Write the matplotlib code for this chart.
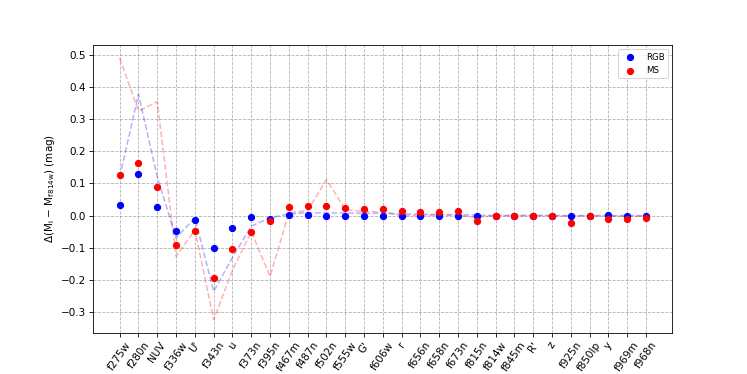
import matplotlib
matplotlib.use("Agg")
import matplotlib.pyplot as plt
import numpy as np

filters = ["f275w", "f280n", "NUV", "f336w", "U'", "f343n", "u", "f373n", "f395n",
           "f467m", "f487n", "f502n", "f555w", "G'", "f606w", "r", "f656n", "f658n",
           "f673n", "f815n", "f814w", "f845m", "R'", "z", "f925n", "f850lp", "y",
           "f969m", "f968n"]

# observed points
rgb_pts = [0.032, 0.129, 0.027, -0.049, -0.013, -0.100, -0.040, -0.006, -0.012,
           0.001, 0.001, 0.000, 0.000, 0.000, 0.000, 0.000, 0.000, 0.000,
           0.000, -0.002, 0.000, 0.000, 0.000, 0.000, 0.000, 0.000, 0.001,
           0.000, 0.000]
ms_pts = [0.127, 0.162, 0.088, -0.093, -0.048, -0.193, -0.103, -0.052, -0.017,
          0.027, 0.029, 0.029, 0.024, 0.021, 0.019, 0.015, 0.011, 0.012,
          0.015, -0.018, 0.000, 0.000, 0.000, 0.000, -0.023, 0.000, -0.010,
          -0.011, -0.009]

# dashed curves
rgb_line = [0.12, 0.377, 0.12, -0.07, -0.007, -0.236, -0.13, -0.033, -0.007,
            0.005, 0.009, 0.008, 0.008, 0.007, 0.007, 0.005, 0.004, 0.003,
            0.003, 0.001, 0.000, 0.000, 0.000, 0.000, 0.000, 0.000, 0.000,
            0.000, 0.000]
ms_line = [0.49, 0.325, 0.354, -0.127, -0.045, -0.324, -0.17, -0.05, -0.189,
           0.008, 0.016, 0.112, 0.019, 0.012, 0.012, 0.000, 0.000, 0.002,
           0.000, -0.005, 0.000, 0.000, 0.000, 0.000, -0.002, 0.000, -0.002,
           -0.002, -0.002]

DPI = 74.7
fig, ax = plt.subplots(figsize=(747 / DPI, 374 / DPI), dpi=DPI)
x = np.arange(len(filters))

ax.plot(x, rgb_line, color="blue", ls="--", alpha=0.3, lw=1.5)
ax.plot(x, ms_line, color="red", ls="--", alpha=0.3, lw=1.5)
ax.scatter(x, rgb_pts, color="blue", s=36, label="RGB", zorder=3)
ax.scatter(x, ms_pts, color="red", s=36, label="MS", zorder=4)

ax.set_xticks(x)
ax.set_xticklabels(filters, rotation=55)
ax.set_ylabel(r"$\Delta$(M$_\mathrm{i}$ $-$ M$_\mathrm{f814w}$) (mag)")
ax.grid(True, linestyle="--", color="gray", alpha=0.6, lw=0.8)
ax.set_axisbelow(True)
ax.legend(loc="upper right", fontsize="small")

fig.subplots_adjust(left=0.125, right=0.9, top=0.88, bottom=0.11)
fig.savefig("out.png", dpi=DPI)
